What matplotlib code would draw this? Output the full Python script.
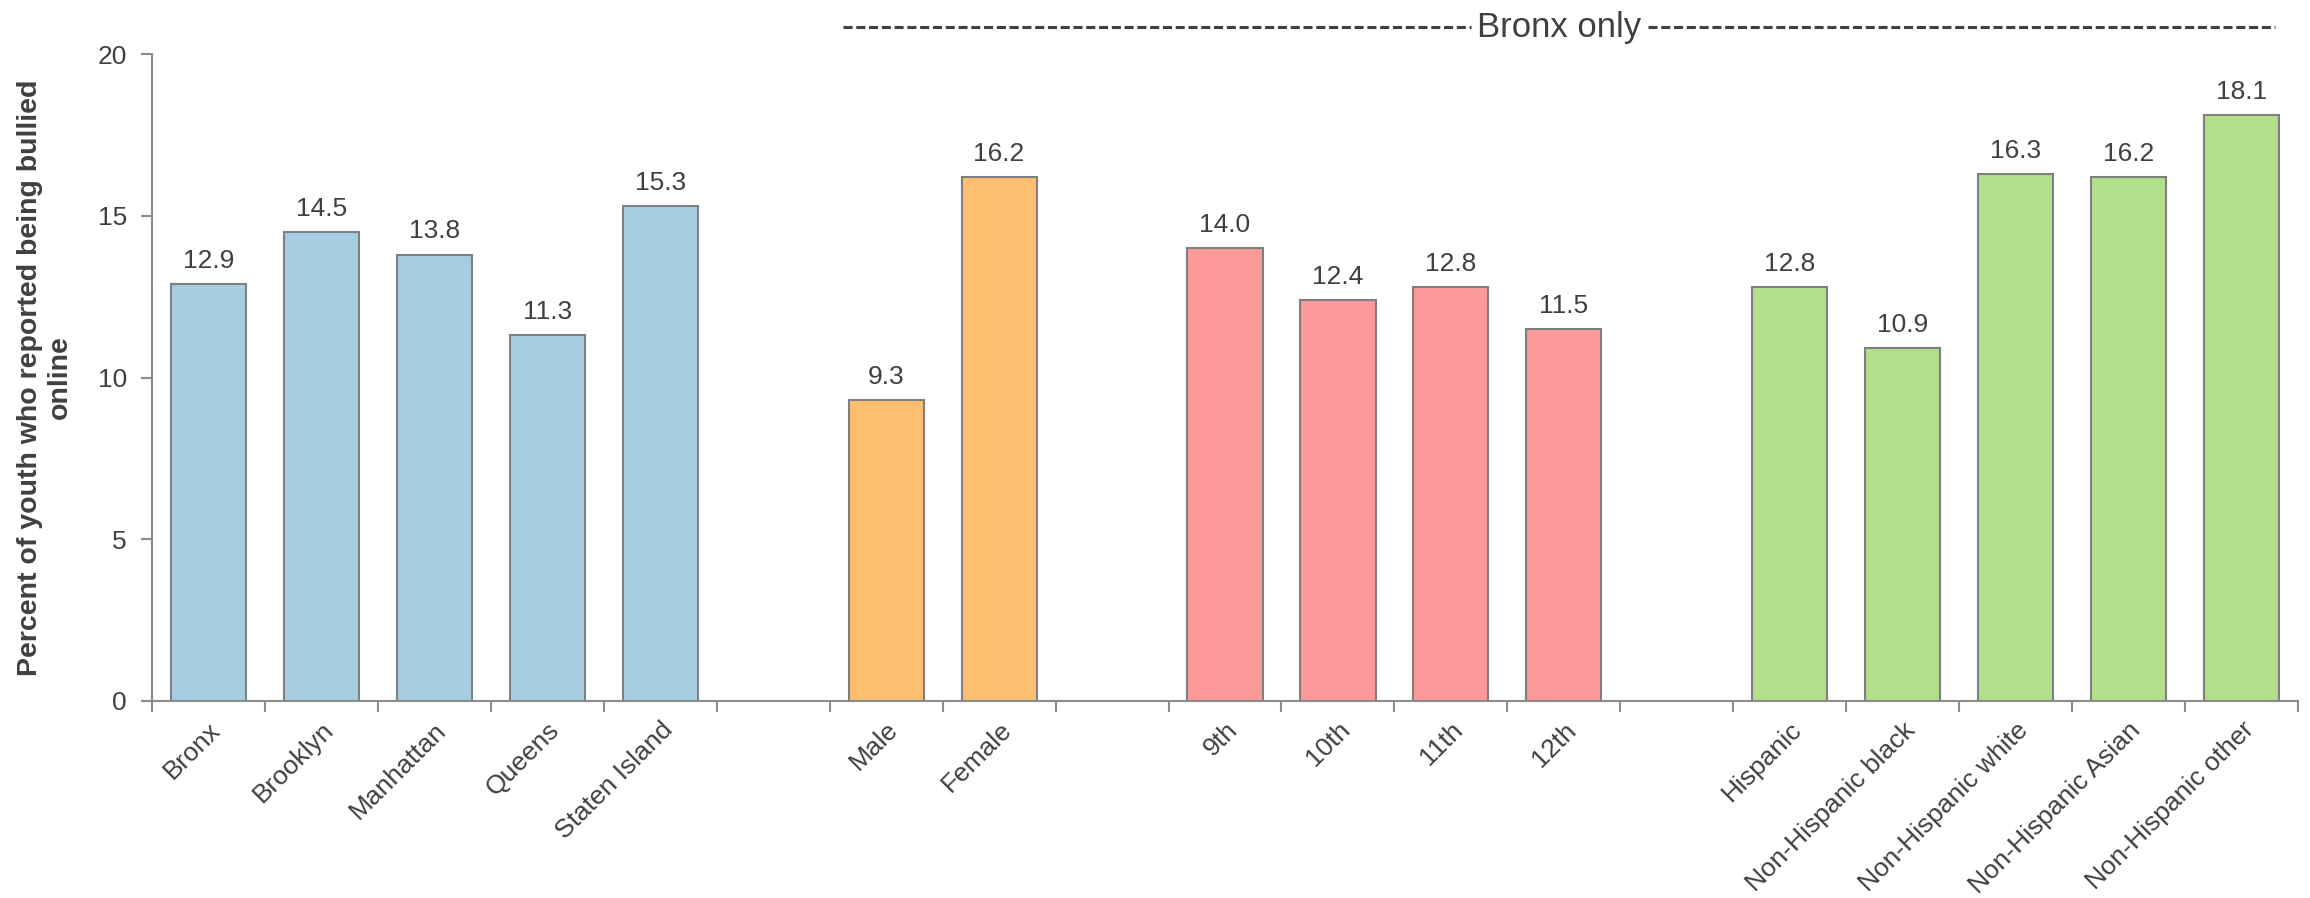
import matplotlib
matplotlib.use("Agg")
import matplotlib.pyplot as plt
from matplotlib.lines import Line2D

plt.rcParams["font.family"] = ["Liberation Sans", "DejaVu Sans"]
plt.rcParams["lines.scale_dashes"] = False

# data
boroughs = ["Bronx", "Brooklyn", "Manhattan", "Queens", "Staten Island"]
borough_vals = [12.9, 14.5, 13.8, 11.3, 15.3]
sexes = ["Male", "Female"]
sex_vals = [9.3, 16.2]
grades = ["9th", "10th", "11th", "12th"]
grade_vals = [14.0, 12.4, 12.8, 11.5]
races = ["Hispanic", "Non-Hispanic black", "Non-Hispanic white",
         "Non-Hispanic Asian", "Non-Hispanic other"]
race_vals = [12.8, 10.9, 16.3, 16.2, 18.1]

groups = [
    (boroughs, borough_vals, "#A6CEE3"),
    (sexes, sex_vals, "#FDBF6F"),
    (grades, grade_vals, "#FB9A99"),
    (races, race_vals, "#B2DF8A"),
]

TEXT = "#404040"
AXIS = "#8c8c8c"

fig = plt.figure(figsize=(23.1, 8.98), dpi=100)
ax = fig.add_axes([152 / 2310, 1 - 701 / 898, (2298 - 152) / 2310, (701 - 54) / 898])

# one empty slot between groups
labels, centers = [], []
slot = 0
for names, vals, color in groups:
    xs = [slot + i + 0.5 for i in range(len(names))]
    ax.bar(xs, vals, width=0.665, color=color, edgecolor="#7f7f7f", linewidth=1.5, zorder=2)
    for x, v in zip(xs, vals):
        ax.annotate(f"{v:.1f}", (x, v), xytext=(0, 8), textcoords="offset points",
                    ha="center", va="bottom", fontsize=19, color=TEXT)
    labels += names
    centers += xs
    slot += len(names) + 1
n_slots = slot - 1

ax.set_xlim(0, n_slots)
ax.set_ylim(0, 20)
ax.set_yticks([0, 5, 10, 15, 20])
ax.set_xticks(range(n_slots + 1))
ax.set_xticklabels([])
ax.set_xticks(centers, minor=True)
ax.set_xticklabels(labels, minor=True, rotation=45, ha="right", rotation_mode="anchor",
                   fontsize=19, color=TEXT)
ax.tick_params(axis="x", which="major", length=8, width=1.5, color=AXIS, direction="out")
ax.tick_params(axis="x", which="minor", length=0, pad=12)
ax.tick_params(axis="y", length=8, width=1.5, color=AXIS, labelsize=19, labelcolor=TEXT, pad=10)

for side in ["top", "right"]:
    ax.spines[side].set_visible(False)
for side in ["left", "bottom"]:
    ax.spines[side].set_color(AXIS)
    ax.spines[side].set_linewidth(1.5)

ax.set_ylabel("Percent of youth who reported being bullied\nonline", fontsize=20.5,
              fontweight="bold", color=TEXT, labelpad=18)

# "Bronx only" bracket above the subgroup bars
y_line = 1 - 27 / 898
fig.add_artist(Line2D([843 / 2310, 1471 / 2310], [y_line, y_line], transform=fig.transFigure,
                      color=TEXT, linewidth=2.2, dashes=(6.5, 2.7)))
fig.add_artist(Line2D([1648 / 2310, 2275 / 2310], [y_line, y_line], transform=fig.transFigure,
                      color=TEXT, linewidth=2.2, dashes=(6.5, 2.7)))
fig.text(1559 / 2310, y_line, "Bronx only", ha="center", va="center", fontsize=25,
         color=TEXT, family=["Liberation Sans Narrow", "Liberation Sans", "DejaVu Sans"])

fig.savefig("out.png", dpi=100)
